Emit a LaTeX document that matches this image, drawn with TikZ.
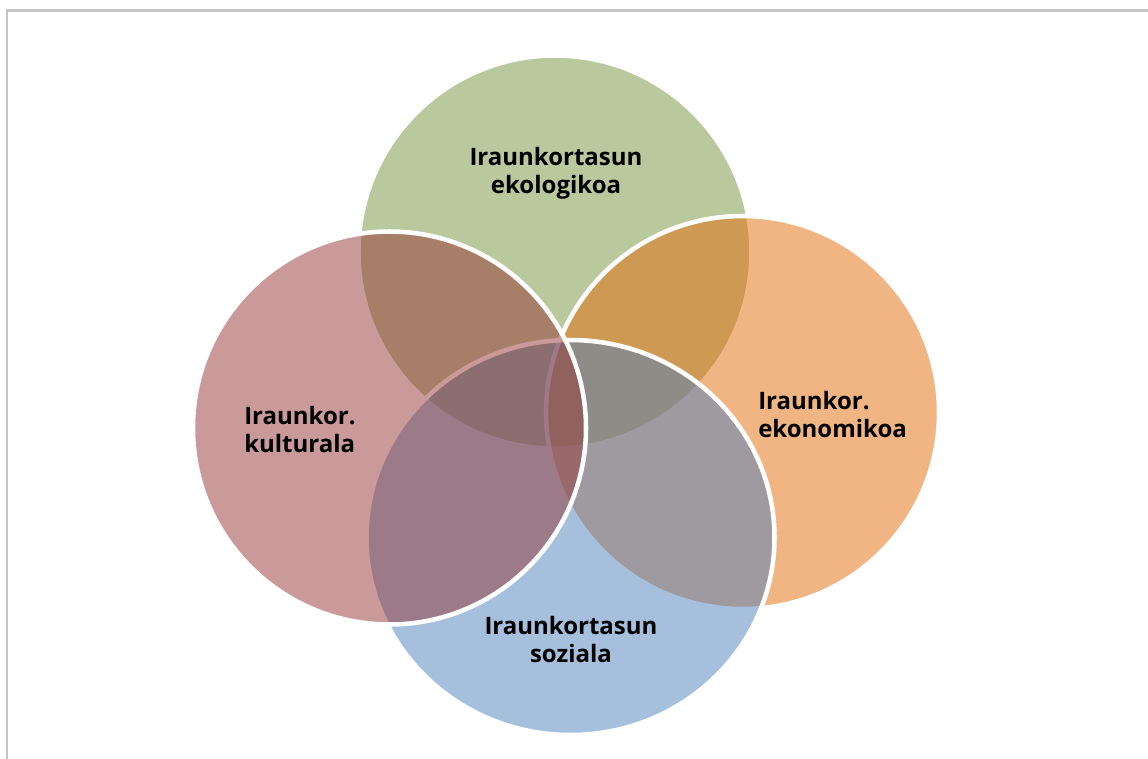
\documentclass[tikz,border=0pt]{standalone}
\usepackage{fontspec}
\usetikzlibrary{shapes.geometric}
\setmainfont{Open Sans}
\definecolor{framegray}{RGB}{196,196,196}
\definecolor{vgreen}{RGB}{118,146,60}
\definecolor{vorange}{RGB}{227,108,9}
\definecolor{vblue}{RGB}{79,129,189}
\definecolor{vred}{RGB}{149,55,53}
\begin{document}
\begin{tikzpicture}[x=0.75pt,y=-0.75pt,
  venn/.style={circle, draw=white, line width=3.4pt, minimum size=294.75pt,
    inner sep=0pt, outer sep=0pt, fill opacity=0.5},
  lbl/.style={font=\bfseries\fontsize{18}{21}\selectfont, text=black,
    inner sep=0pt}]
\useasboundingbox (0,0) rectangle (1148,758);
\fill[white] (0,0) rectangle (1148,758);
\begin{scope}
  \clip (0,0) rectangle (1148,758);
  % page frame
  \draw[framegray, line width=2pt] (1170,10.5) -| (7,780);
\end{scope}
% the four overlapping circles
\node[venn, fill=vgreen]  (ecol) at (555,252) {};
\node[venn, fill=vorange] (econ) at (742.5,412.5) {};
\node[venn, ellipse, minimum width=306pt, minimum height=296.25pt,
      fill=vblue] (soz) at (570.5,537.5) {};
\node[venn, fill=vred]    (kult) at (389.5,428) {};
% labels
\node[lbl, align=center]            (tecol) at (556,173) {Iraunkortasun\\ekologikoa};
\node[lbl, align=left, anchor=west] (tecon) at (758,414) {Iraunkor.\\ekonomikoa};
\node[lbl, align=center]            (tsoz)  at (571,639) {Iraunkortasun\\soziala};
\node[lbl, align=left, anchor=west] (tkult) at (244,429) {Iraunkor.\\kulturala};
\end{tikzpicture}
\end{document}
